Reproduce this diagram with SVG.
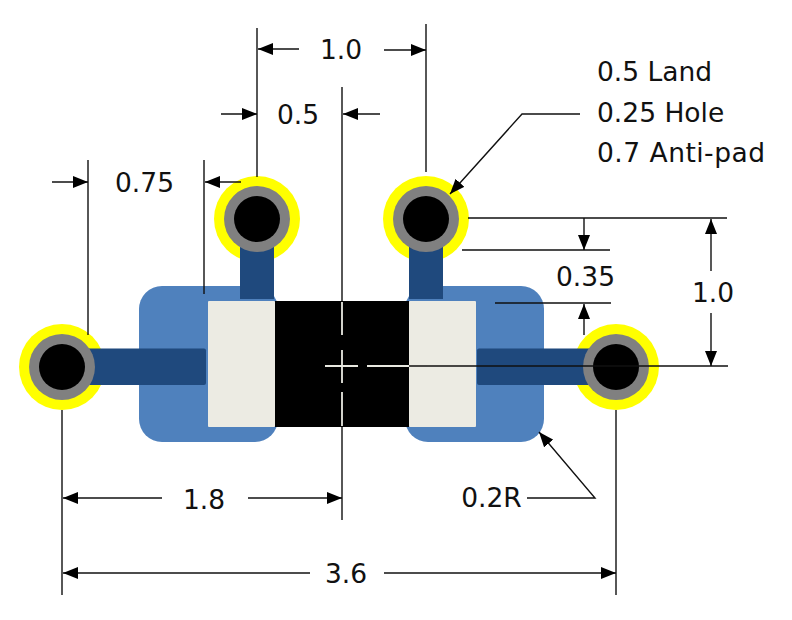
<svg xmlns="http://www.w3.org/2000/svg" width="792" height="620" viewBox="0 0 792 620">
<style>
.pad{fill:#4f81bd}
.trace{fill:#1f497d}
.land{fill:#ffff00}
.hole{fill:#808080}
.drill{fill:#000}
.cap{fill:#ecebe3}
.d{fill:none;stroke:#111;stroke-width:1.4}
.a{marker-end:url(#arrow)}
.w{fill:none;stroke:#e8e8e0;stroke-width:1.8}
text{font-family:"DejaVu Sans","Noto Sans",sans-serif;font-size:26.5px;fill:#111}
.m{text-anchor:middle}
</style>
<defs>
<marker id="arrow" markerUnits="userSpaceOnUse" markerWidth="16" markerHeight="12" refX="15" refY="6" orient="auto">
<path d="M0 0L15 6L0 12Z" fill="#000"/>
</marker>
</defs>
<rect width="792" height="620" fill="#fff"/>
<g id="pad-left"><rect class="pad" x="139" y="286" width="139" height="156" rx="23"/></g>
<g id="pad-right"><rect class="pad" x="405" y="286" width="139" height="156" rx="23"/></g>
<g id="via-top-left">
<circle class="land" cx="257" cy="219" r="43"/>
<rect class="trace" x="240" y="245" width="34" height="54"/>
<circle class="hole" cx="257" cy="219" r="33"/><circle class="drill" cx="257" cy="219" r="23"/>
</g>
<g id="via-top-right">
<circle class="land" cx="426" cy="219" r="43"/>
<rect class="trace" x="409" y="245" width="34" height="54"/>
<circle class="hole" cx="426" cy="219" r="33"/><circle class="drill" cx="426" cy="219" r="23"/>
</g>
<g id="via-left">
<circle class="land" cx="62" cy="367" r="43"/>
<rect class="trace" x="85" y="348.500" width="121" height="36.500" rx="2"/>
<circle class="hole" cx="62" cy="367" r="33"/><circle class="drill" cx="62" cy="367" r="23"/>
</g>
<g id="via-right">
<circle class="land" cx="616" cy="367" r="43"/>
<rect class="trace" x="477" y="348.500" width="120" height="36.500" rx="2"/>
<circle class="hole" cx="616" cy="367" r="33"/><circle class="drill" cx="616" cy="367" r="23"/>
</g>
<g id="component">
<rect x="275" y="301" width="134" height="126" fill="#000"/>
<rect class="cap" x="208" y="301" width="67" height="126" rx="1"/>
<rect class="cap" x="409" y="301" width="67" height="126" rx="1"/>
</g>
<g id="connectors">
<path class="d" d="M257 28V177M426 24V172M88 160V335M204 160V294M62 410V595M616 410V595M342 87V301M342 427V520"/>
<path class="d" d="M468 218H727M462 250H610M495 303H611M409 366H728"/>
<path class="w" d="M342 302V335M342 350V383M342 392V426M325 366H358M367 366H409"/>
<path class="d a" d="M299 49H258"/>
<path class="d a" d="M384 50H426"/>
<path class="d a" d="M221 114H257"/>
<path class="d a" d="M380 114H343"/>
<path class="d a" d="M52 182H88"/>
<path class="d a" d="M241 182H205"/>
<path class="d a" d="M584 218V250"/>
<path class="d a" d="M584 335V304"/>
<path class="d a" d="M711 271V219"/>
<path class="d a" d="M711 313V366"/>
<path class="d a" d="M580 114H522L450 194"/>
<path class="d a" d="M527 498H595L539 432"/>
<path class="d a" d="M162 498H63"/>
<path class="d a" d="M248 498H342"/>
<path class="d a" d="M310 573H63"/>
<path class="d a" d="M384 573H616"/>
</g>
<g id="labels">
<text class="m" x="341" y="59">1.0</text>
<text class="m" x="298" y="124">0.5</text>
<text class="m" x="144.500" y="192">0.75</text>
<text class="m" x="585.500" y="286">0.35</text>
<text class="m" x="713" y="302">1.0</text>
<text class="m" x="204" y="509">1.8</text>
<text class="m" x="491.500" y="507">0.2R</text>
<text class="m" x="346" y="583">3.6</text>
<text x="597" y="81">0.5 Land</text>
<text x="597" y="122">0.25 Hole</text>
<text x="597" y="162" textLength="168">0.7 Anti-pad</text>
</g>
</svg>
